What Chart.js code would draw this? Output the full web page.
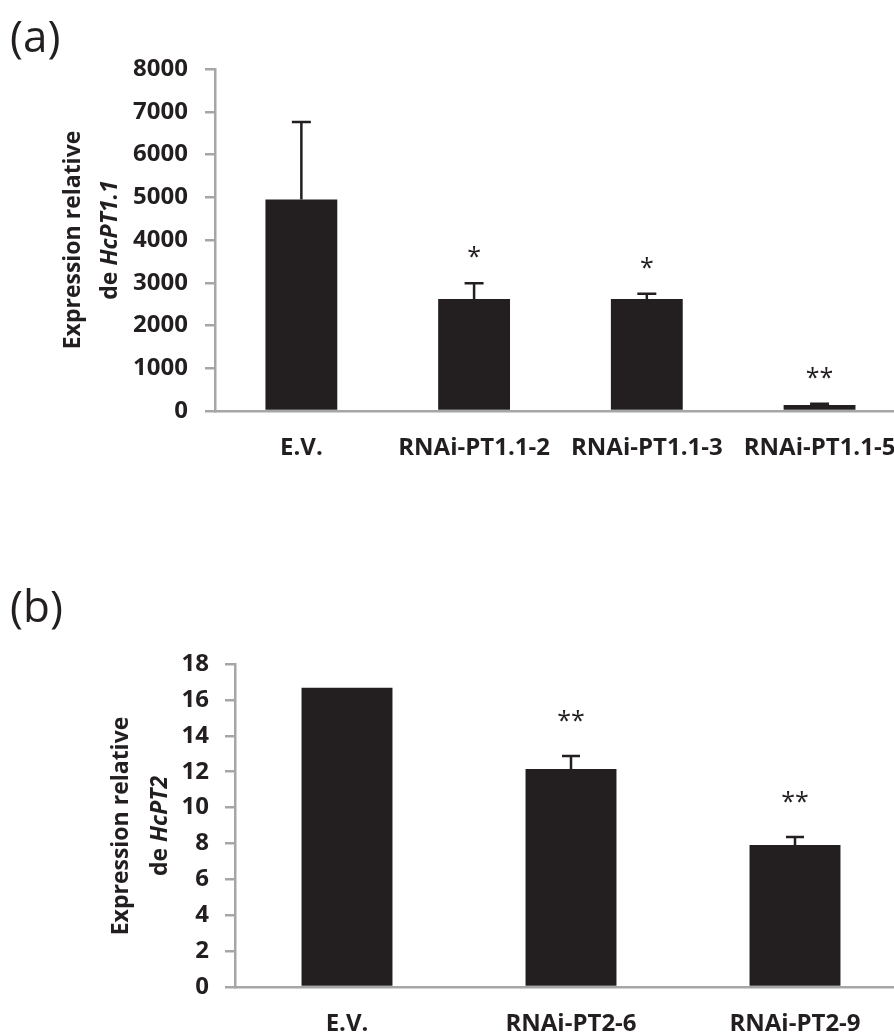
<!DOCTYPE html>
<html>
<head>
<meta charset="utf-8">
<script src="https://cdn.jsdelivr.net/npm/chart.js@4.4.1/dist/chart.umd.min.js"></script>
<style>
  html, body { margin: 0; padding: 0; background: #fff; overflow: hidden; width: 894px; height: 1036px; }
  canvas { position: absolute; left: 0; }
  #chartA { top: 0; }
  #chartB { top: 560px; }
</style>
</head>
<body>
<canvas id="chartA" width="920" height="500"></canvas>
<canvas id="chartB" width="920" height="500"></canvas>
<script>
// Panel (a): relative expression of HcPT1.1
const linesA = ['E.V.', 'RNAi-PT1.1-2', 'RNAi-PT1.1-3', 'RNAi-PT1.1-5'];
const meanA = [4950, 2620, 2620, 140];
const errA = [1810, 370, 120, 30];
const sigA = ['', '*', '*', '**'];
const ticksA = [0, 1000, 2000, 3000, 4000, 5000, 6000, 7000, 8000];

// Panel (b): relative expression of HcPT2
const linesB = ['E.V.', 'RNAi-PT2-6', 'RNAi-PT2-9'];
const meanB = [16.67, 12.15, 7.92];
const errB = [0, 0.73, 0.44];
const sigB = ['', '**', '**'];
const ticksB = [0, 2, 4, 6, 8, 10, 12, 14, 16, 18];

const INK = '#231f20';
const AXIS = '#a6a6a6';
const FONT = "'Open Sans', sans-serif";
const CANVAS_W = 920, CANVAS_H = 500;

Chart.defaults.font.family = FONT;
Chart.defaults.color = INK;

function panelPlugin(cfg) {
  return {
    id: 'panelDecor',
    afterDatasetsDraw(chart) {
      const ctx = chart.ctx;
      const meta = chart.getDatasetMeta(0);
      const y = chart.scales.y;
      ctx.save();
      ctx.strokeStyle = INK;
      ctx.fillStyle = INK;
      ctx.lineWidth = 2.5;
      meta.data.forEach((bar, i) => {
        const base = y.getPixelForValue(cfg.means[i]);
        const top = y.getPixelForValue(cfg.means[i] + cfg.errs[i]);
        if (cfg.errs[i] > 0) {
          ctx.beginPath();
          ctx.moveTo(bar.x, base);
          ctx.lineTo(bar.x, top);
          ctx.moveTo(bar.x - cfg.cap / 2, top);
          ctx.lineTo(bar.x + cfg.cap / 2, top);
          ctx.stroke();
        }
        if (cfg.sig[i]) {
          ctx.font = `400 ${cfg.sigSize}px ${FONT}`;
          ctx.textAlign = 'center';
          ctx.textBaseline = 'alphabetic';
          ctx.fillText(cfg.sig[i], bar.x, top - cfg.sigGap + 0.61 * cfg.sigSize);
        }
      });
      ctx.restore();
    },
    afterDraw(chart) {
      const ctx = chart.ctx;
      ctx.save();
      ctx.fillStyle = INK;
      // panel letter
      ctx.font = `400 44px ${FONT}`;
      ctx.textAlign = 'left';
      ctx.textBaseline = 'alphabetic';
      ctx.fillText(cfg.panel, 10, cfg.panelBaseline);

      // rotated two-line axis title, gene name in italics
      const regular = `bold ${cfg.titleSize}px ${FONT}`;
      const italic = `italic bold ${cfg.titleSize}px ${FONT}`;
      const cy = cfg.titleCenterY;

      ctx.save();
      ctx.translate(cfg.titleX1, cy);
      ctx.rotate(-Math.PI / 2);
      ctx.font = regular;
      ctx.textAlign = 'center';
      ctx.fillText('Expression relative', 0, 0);
      ctx.restore();

      ctx.save();
      ctx.translate(cfg.titleX2, cy);
      ctx.rotate(-Math.PI / 2);
      ctx.textAlign = 'left';
      ctx.font = regular;
      const w1 = ctx.measureText('de ').width;
      ctx.font = italic;
      const w2 = ctx.measureText(cfg.gene).width;
      const x0 = -(w1 + w2) / 2;
      ctx.font = regular;
      ctx.fillText('de ', x0, 0);
      ctx.font = italic;
      ctx.fillText(cfg.gene, x0 + w1, 0);
      ctx.restore();

      ctx.restore();
    }
  };
}

function buildPanel(id, cfg) {
  const ctx = document.getElementById(id);
  return new Chart(ctx, {
    type: 'bar',
    data: {
      labels: cfg.labels,
      datasets: [{
        data: cfg.means,
        backgroundColor: INK,
        borderWidth: 0,
        barPercentage: cfg.barPct,
        categoryPercentage: 1
      }]
    },
    options: {
      responsive: false,
      animation: false,
      devicePixelRatio: 1,
      layout: {
        padding: { top: cfg.areaTop, right: CANVAS_W - cfg.areaRight, left: 0, bottom: 0 }
      },
      plugins: { legend: { display: false }, tooltip: { enabled: false } },
      scales: {
        x: {
          grid: { display: false, drawTicks: false },
          border: { display: true, color: AXIS, width: 2.5 },
          ticks: {
            font: { size: 24, weight: 'bold' },
            color: INK,
            padding: 23,
            maxRotation: 0,
            autoSkip: false
          },
          afterFit(scale) { scale.height = CANVAS_H - cfg.areaBottom; }
        },
        y: {
          min: cfg.ticks[0],
          max: cfg.ticks[cfg.ticks.length - 1],
          grid: { drawOnChartArea: false, drawTicks: true, tickLength: 10, color: AXIS, lineWidth: 2.5 },
          border: { display: true, color: AXIS, width: 2.5 },
          ticks: {
            font: { size: 24, weight: 'bold' },
            color: INK,
            padding: cfg.tickPad,
            callback: v => String(v)
          },
          afterBuildTicks(scale) { scale.ticks = cfg.ticks.map(v => ({ value: v })); },
          afterFit(scale) { scale.width = cfg.areaLeft; }
        }
      }
    },
    plugins: [panelPlugin(cfg)]
  });
}

buildPanel('chartA', {
  labels: linesA, means: meanA, errs: errA, sig: sigA, ticks: ticksA,
  areaLeft: 215, areaRight: 907, areaTop: 69, areaBottom: 411,
  barPct: 0.416, tickPad: 17, cap: 19, sigSize: 25, sigGap: 33,
  panel: '(a)', panelBaseline: 52,
  gene: 'HcPT1.1', titleSize: 23, titleX1: 80, titleX2: 117, titleCenterY: 240
});

buildPanel('chartB', {
  labels: linesB, means: meanB, errs: errB, sig: sigB, ticks: ticksB,
  areaLeft: 235, areaRight: 907, areaTop: 104, areaBottom: 427,
  barPct: 0.406, tickPad: 16, cap: 18, sigSize: 25, sigGap: 42,
  panel: '(b)', panelBaseline: 62,
  gene: 'HcPT2', titleSize: 23, titleX1: 128, titleX2: 167, titleCenterY: 266
});
</script>
</body>
</html>
